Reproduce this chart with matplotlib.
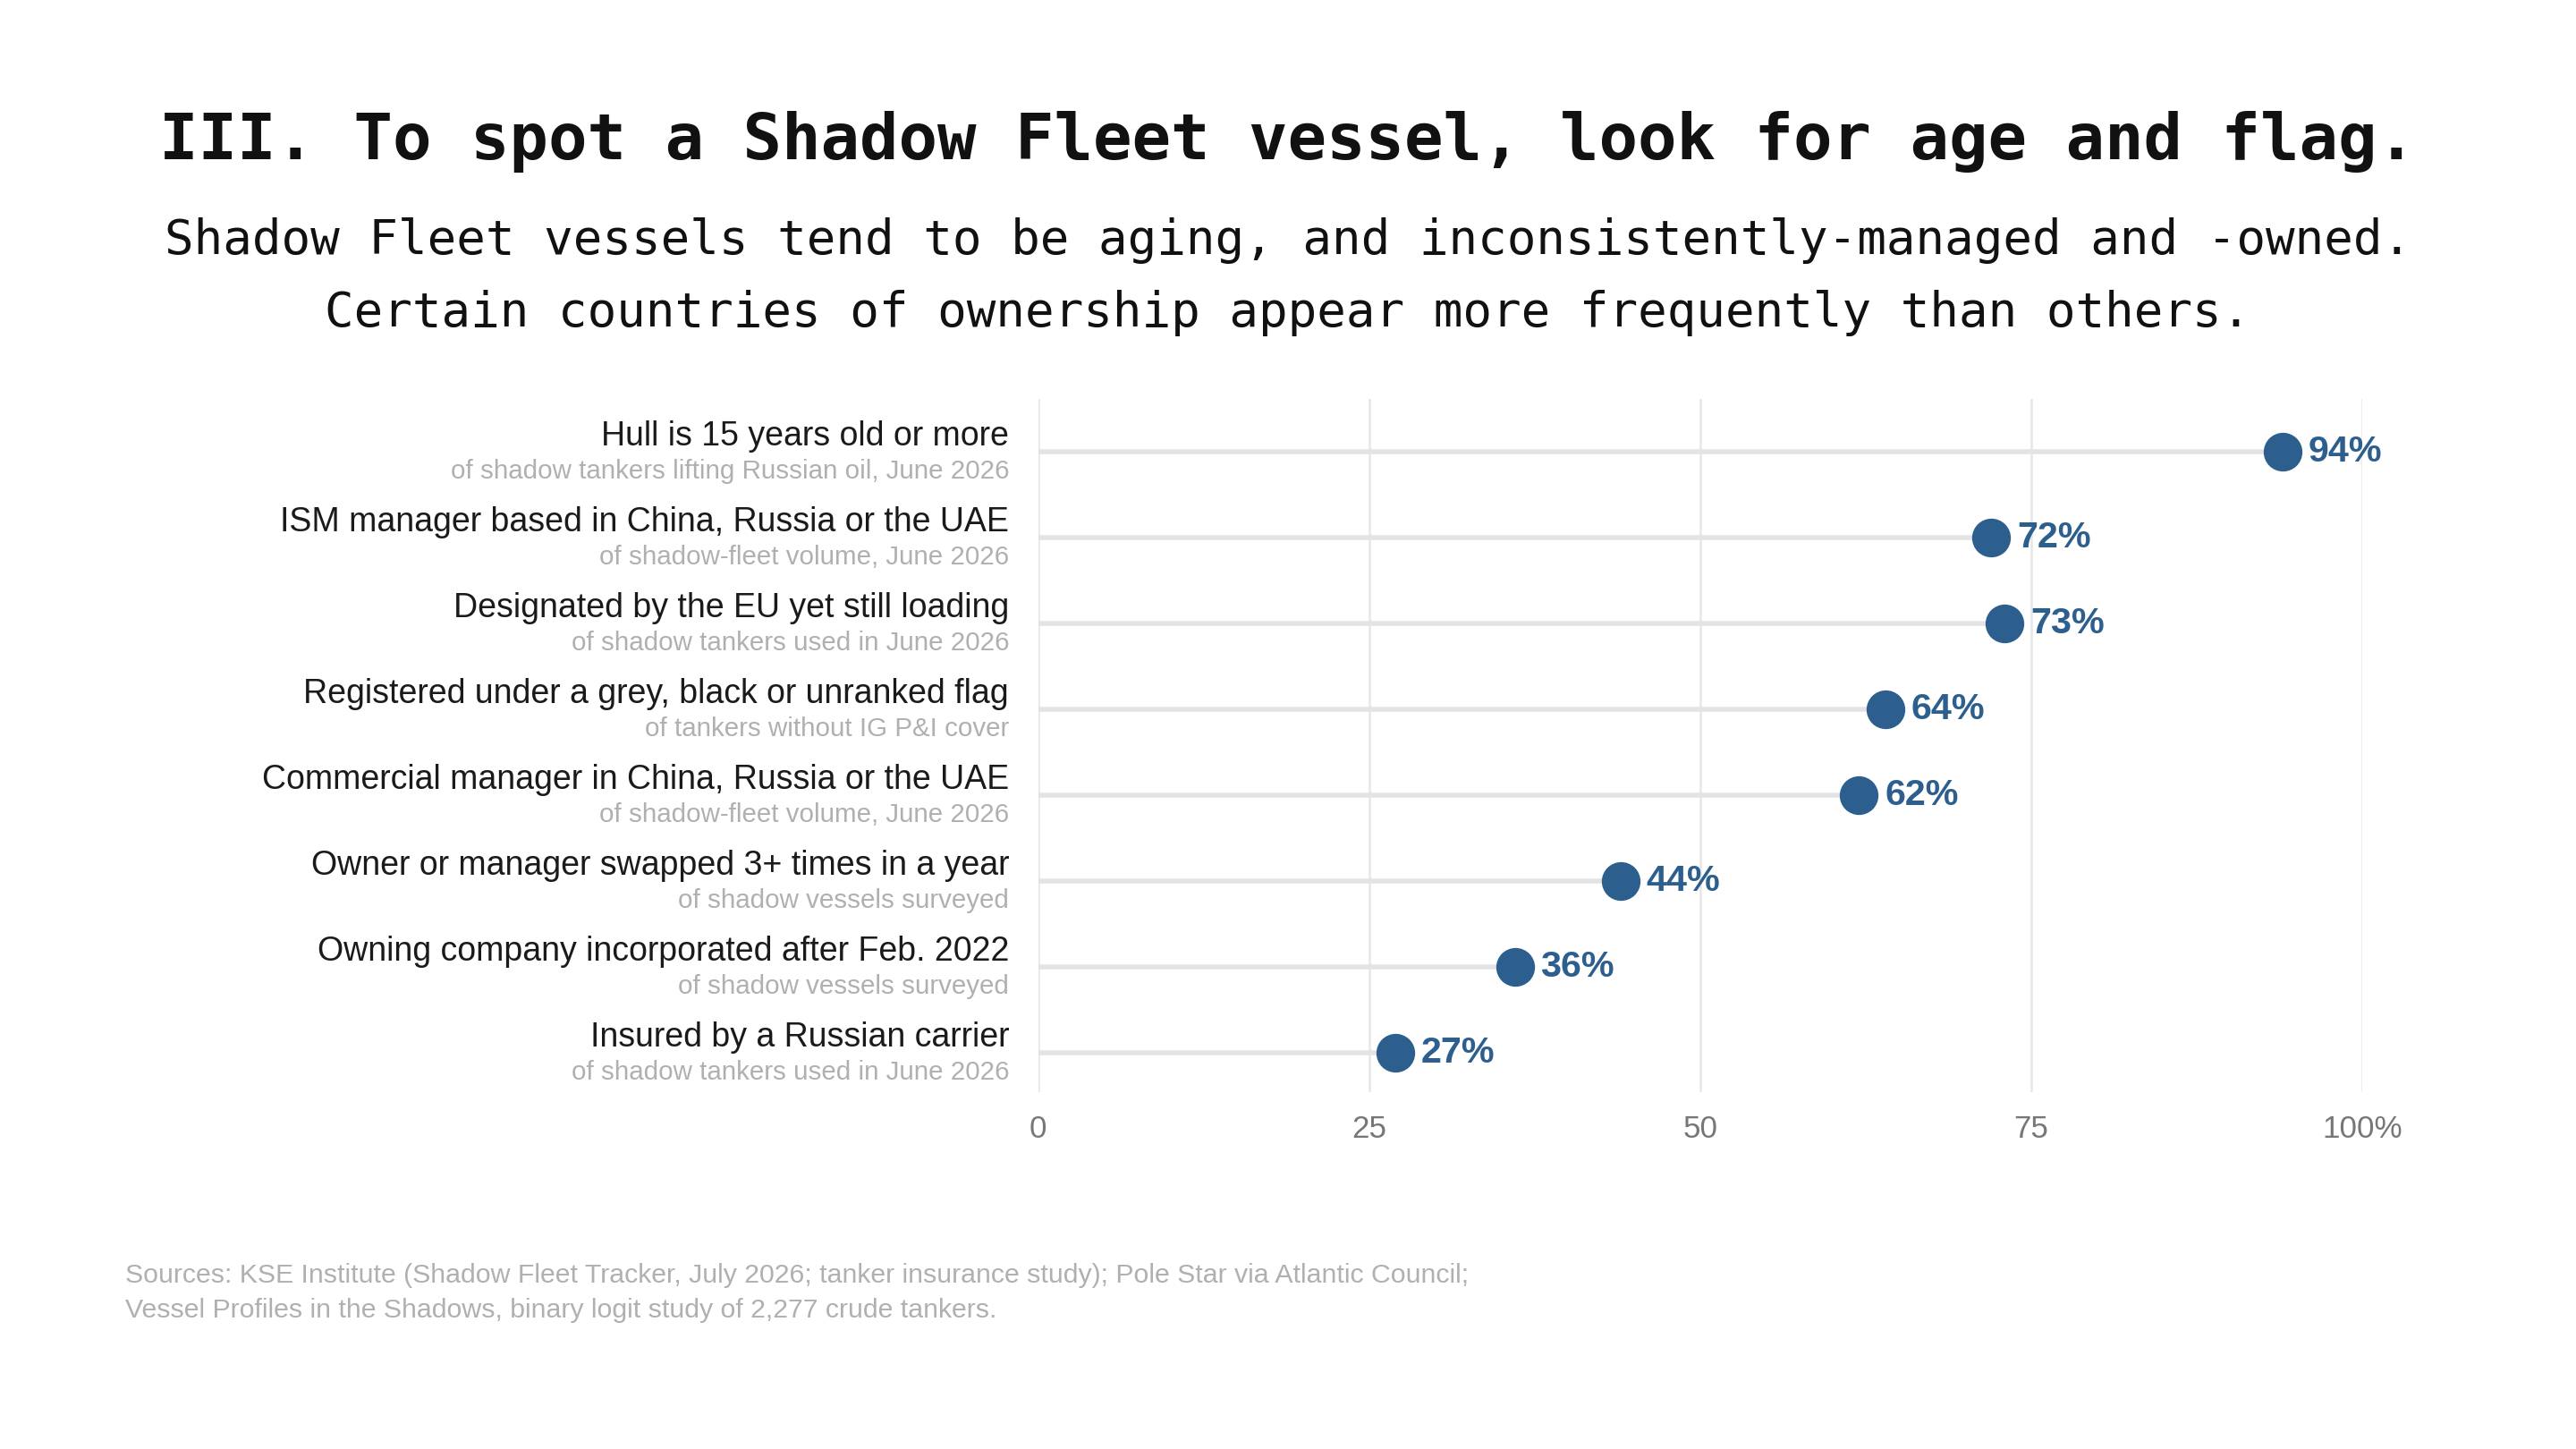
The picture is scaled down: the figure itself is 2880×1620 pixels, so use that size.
import matplotlib
matplotlib.use("Agg")
import matplotlib.pyplot as plt

# data
labels = [
    "Hull is 15 years old or more",
    "ISM manager based in China, Russia or the UAE",
    "Designated by the EU yet still loading",
    "Registered under a grey, black or unranked flag",
    "Commercial manager in China, Russia or the UAE",
    "Owner or manager swapped 3+ times in a year",
    "Owning company incorporated after Feb. 2022",
    "Insured by a Russian carrier",
]
sublabels = [
    "of shadow tankers lifting Russian oil, June 2026",
    "of shadow-fleet volume, June 2026",
    "of shadow tankers used in June 2026",
    "of tankers without IG P&I cover",
    "of shadow-fleet volume, June 2026",
    "of shadow vessels surveyed",
    "of shadow vessels surveyed",
    "of shadow tankers used in June 2026",
]
values = [94, 72, 73, 64, 62, 44, 36, 27]
xticks = [0, 25, 50, 75, 100]
xticklabels = ["0", "25", "50", "75", "100%"]

title = "III. To spot a Shadow Fleet vessel, look for age and flag."
subtitle1 = "Shadow Fleet vessels tend to be aging, and inconsistently-managed and -owned."
subtitle2 = "Certain countries of ownership appear more frequently than others."
sources = ("Sources: KSE Institute (Shadow Fleet Tracker, July 2026; tanker insurance study); Pole Star via Atlantic Council;\n"
           "Vessel Profiles in the Shadows, binary logit study of 2,277 crude tankers.")

dot_color = "#2d5f8e"
sans = "Liberation Sans"
mono = "DejaVu Sans Mono"

fig = plt.figure(figsize=(16, 9), dpi=180)
ax = fig.add_axes([0.403, 0.246, 0.514, 0.479])

rows = list(range(len(values)))

# stems and dots
for y, v in zip(rows, values):
    ax.plot([0, v], [y, y], color="#e3e3e3", lw=2.2, solid_capstyle="butt", zorder=1)
ax.scatter(values, rows, s=300, color=dot_color, zorder=3, linewidths=0)

for y, v in zip(rows, values):
    ax.annotate(f"{v}%", (v, y), xytext=(11.5, 0), textcoords="offset points",
                va="center", ha="left", fontsize=16.5, fontweight="bold",
                color=dot_color, family=sans)

# row labels
for y, lab, sub in zip(rows, labels, sublabels):
    ax.text(-0.022, y - 0.18, lab, transform=ax.get_yaxis_transform(),
            ha="right", va="center", fontsize=15, color="#1a1a1a", family=sans)
    ax.text(-0.022, y + 0.23, sub, transform=ax.get_yaxis_transform(),
            ha="right", va="center", fontsize=11.8, color="#b0b0b0", family=sans)

ax.set_xlim(0, 100)
ax.set_ylim(len(values) - 0.54, -0.62)
ax.set_xticks(xticks)
ax.set_xticklabels(xticklabels, fontsize=14, color="#777777", family=sans)
ax.set_yticks([])
ax.tick_params(axis="x", length=0, pad=10)
ax.grid(axis="x", color="#e6e6e6", lw=1.0, zorder=0)
ax.set_axisbelow(True)
for s in ax.spines.values():
    s.set_visible(False)

# titles
fig.text(0.5, 0.902, title, ha="center", va="center", fontsize=28.9,
         fontweight="bold", family=mono, color="#111111")
fig.text(0.5, 0.834, subtitle1, ha="center", va="center", fontsize=21.7,
         family=mono, color="#111111")
fig.text(0.5, 0.784, subtitle2, ha="center", va="center", fontsize=21.7,
         family=mono, color="#111111")

fig.text(0.0485, 0.108, sources, ha="left", va="center", fontsize=12.1,
         color="#b0b0b0", family=sans, linespacing=1.5)

fig.savefig("out.png", dpi=180, facecolor="white")
